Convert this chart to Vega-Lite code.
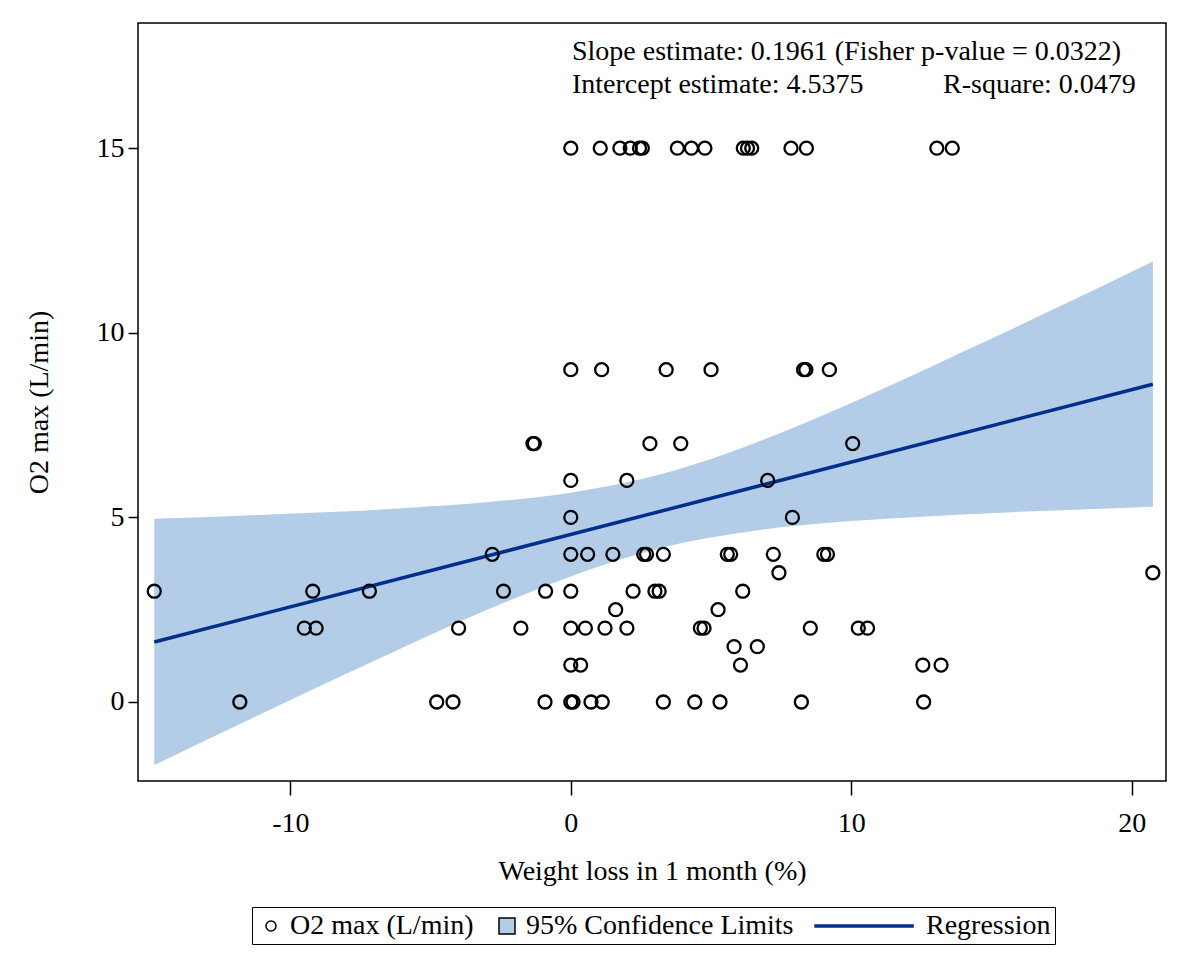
{
  "$schema": "https://vega.github.io/schema/vega-lite/v6.json",
  "width": 1028,
  "height": 758,
  "autosize": {"type": "none"},
  "padding": {"left": 138, "top": 23, "right": 23, "bottom": 184},
  "background": "white",
  "config": {
    "font": "Liberation Serif",
    "view": {"stroke": "#000000", "strokeWidth": 1.5},
    "axis": {
      "grid": false, "domain": false,
      "labelFont": "Liberation Serif", "titleFont": "Liberation Serif",
      "labelFontSize": 28, "titleFontSize": 28, "titleFontWeight": "normal",
      "labelColor": "#000000", "titleColor": "#000000", "tickColor": "#000000", "tickWidth": 1.5
    },
    "legend": {
      "labelFont": "Liberation Serif", "labelFontSize": 28, "labelColor": "#000000", "labelLimit": 0,
      "strokeColor": "#000000", "padding": 4, "columnPadding": 18, "labelOffset": 4,
      "symbolSize": 784, "symbolStrokeWidth": 1.5, "symbolOpacity": 1
    }
  },
  "datasets": {
    "band": [
      {"x": -14.85, "lo": -1.71, "hi": 4.96},
      {"x": -12, "lo": -0.67, "hi": 5.04},
      {"x": -9, "lo": 0.41, "hi": 5.13},
      {"x": -6, "lo": 1.47, "hi": 5.25},
      {"x": -3, "lo": 2.49, "hi": 5.41},
      {"x": 0, "lo": 3.40, "hi": 5.67},
      {"x": 2, "lo": 3.91, "hi": 5.95},
      {"x": 4, "lo": 4.31, "hi": 6.34},
      {"x": 6, "lo": 4.58, "hi": 6.85},
      {"x": 8, "lo": 4.77, "hi": 7.45},
      {"x": 10, "lo": 4.90, "hi": 8.10},
      {"x": 12, "lo": 5.00, "hi": 8.78},
      {"x": 14, "lo": 5.08, "hi": 9.49},
      {"x": 16, "lo": 5.15, "hi": 10.20},
      {"x": 18, "lo": 5.21, "hi": 10.92},
      {"x": 20.75, "lo": 5.29, "hi": 11.93}
    ],
    "fit": [
      {"x": -14.85, "y": 1.625},
      {"x": 20.75, "y": 8.607}
    ],
    "obs": [
      {"x": 0, "y": 15}, {"x": 1.05, "y": 15}, {"x": 1.75, "y": 15}, {"x": 2.12, "y": 15}, {"x": 2.45, "y": 15}, {"x": 2.55, "y": 15}, {"x": 3.8, "y": 15}, {"x": 4.3, "y": 15}, {"x": 4.78, "y": 15}, {"x": 6.15, "y": 15}, {"x": 6.3, "y": 15}, {"x": 6.45, "y": 15}, {"x": 7.85, "y": 15}, {"x": 8.4, "y": 15}, {"x": 13.05, "y": 15}, {"x": 13.6, "y": 15},
      {"x": 0, "y": 9}, {"x": 1.1, "y": 9}, {"x": 3.4, "y": 9}, {"x": 5.0, "y": 9}, {"x": 8.3, "y": 9}, {"x": 8.38, "y": 9}, {"x": 9.22, "y": 9},
      {"x": -1.35, "y": 7}, {"x": -1.3, "y": 7}, {"x": 2.82, "y": 7}, {"x": 3.92, "y": 7}, {"x": 10.05, "y": 7},
      {"x": 0, "y": 6}, {"x": 2.0, "y": 6}, {"x": 7.02, "y": 6},
      {"x": 0, "y": 5}, {"x": 7.9, "y": 5},
      {"x": -2.8, "y": 4}, {"x": 0, "y": 4}, {"x": 0.6, "y": 4}, {"x": 1.5, "y": 4}, {"x": 2.6, "y": 4}, {"x": 2.7, "y": 4}, {"x": 3.3, "y": 4}, {"x": 5.58, "y": 4}, {"x": 5.7, "y": 4}, {"x": 7.22, "y": 4}, {"x": 9.02, "y": 4}, {"x": 9.15, "y": 4},
      {"x": 7.42, "y": 3.5}, {"x": 20.75, "y": 3.5},
      {"x": -14.85, "y": 3}, {"x": -9.2, "y": 3}, {"x": -7.18, "y": 3}, {"x": -2.4, "y": 3}, {"x": -0.9, "y": 3}, {"x": 0, "y": 3}, {"x": 2.22, "y": 3}, {"x": 3.0, "y": 3}, {"x": 3.15, "y": 3}, {"x": 6.13, "y": 3},
      {"x": 1.6, "y": 2.5}, {"x": 5.25, "y": 2.5},
      {"x": -9.5, "y": 2}, {"x": -9.08, "y": 2}, {"x": -4.0, "y": 2}, {"x": -1.78, "y": 2}, {"x": 0, "y": 2}, {"x": 0.52, "y": 2}, {"x": 1.22, "y": 2}, {"x": 2.0, "y": 2}, {"x": 4.62, "y": 2}, {"x": 4.75, "y": 2}, {"x": 8.54, "y": 2}, {"x": 10.25, "y": 2}, {"x": 10.58, "y": 2},
      {"x": 5.82, "y": 1.5}, {"x": 6.65, "y": 1.5},
      {"x": 0, "y": 1}, {"x": 0.35, "y": 1}, {"x": 6.05, "y": 1}, {"x": 12.55, "y": 1}, {"x": 13.2, "y": 1},
      {"x": -11.8, "y": 0}, {"x": -4.78, "y": 0}, {"x": -4.2, "y": 0}, {"x": -0.92, "y": 0}, {"x": 0, "y": 0}, {"x": 0.08, "y": 0}, {"x": 0.72, "y": 0}, {"x": 1.12, "y": 0}, {"x": 3.3, "y": 0}, {"x": 4.42, "y": 0}, {"x": 5.32, "y": 0}, {"x": 8.22, "y": 0}, {"x": 12.58, "y": 0}
    ]
  },
  "layer": [
    {
      "data": {"name": "band"},
      "mark": {"type": "area", "color": "#b3cde8", "opacity": 1, "interpolate": "monotone"},
      "encoding": {
        "x": {"field": "x", "type": "quantitative", "scale": {"domain": [-15.43, 21.22], "nice": false, "zero": false},
              "axis": {"values": [-10, 0, 10, 20], "labelExpr": "'' + datum.value", "tickSize": 14, "labelPadding": 14, "titlePadding": 20, "title": "Weight loss in 1 month (%)"}},
        "y": {"field": "lo", "type": "quantitative", "scale": {"domain": [-2.14, 18.39], "nice": false, "zero": false},
              "axis": {"values": [0, 5, 10, 15], "labelExpr": "'' + datum.value", "tickSize": 10, "labelPadding": 4, "titlePadding": 43, "title": "O2 max (L/min)"}},
        "y2": {"field": "hi"}
      }
    },
    {
      "data": {"name": "fit"},
      "mark": {"type": "line", "color": "#00308a", "strokeWidth": 3.5},
      "encoding": {
        "x": {"field": "x", "type": "quantitative"},
        "y": {"field": "y", "type": "quantitative"}
      }
    },
    {
      "data": {"name": "obs"},
      "mark": {"type": "point", "size": 1325, "strokeWidth": 2.3, "opacity": 1},
      "encoding": {
        "x": {"field": "x", "type": "quantitative"},
        "y": {"field": "y", "type": "quantitative"},
        "shape": {
          "datum": "O2 max (L/min)", "type": "nominal",
          "scale": {"domain": ["O2 max (L/min)", "95% Confidence Limits", "Regression"],
                    "range": ["M -0.357 0 A 0.357 0.357 0 1 0 0.357 0 A 0.357 0.357 0 1 0 -0.357 0 Z", "M -0.571 -0.571 L 0.571 -0.571 L 0.571 0.571 L -0.571 0.571 Z", "M -6.57 -0.08 L 0.43 -0.08 L 0.43 0.08 L -6.57 0.08 Z"]},
          "legend": {"orient": "none", "legendX": 114, "legendY": 884, "direction": "horizontal", "title": null}
        },
        "fill": {
          "datum": "O2 max (L/min)", "type": "nominal",
          "scale": {"domain": ["O2 max (L/min)", "95% Confidence Limits", "Regression"], "range": ["transparent", "#b3cde8", "#00308a"]},
          "legend": {"orient": "none", "legendX": 114, "legendY": 884, "direction": "horizontal", "title": null}
        },
        "stroke": {
          "datum": "O2 max (L/min)", "type": "nominal",
          "scale": {"domain": ["O2 max (L/min)", "95% Confidence Limits", "Regression"], "range": ["#000000", "#000000", "#00308a"]},
          "legend": {"orient": "none", "legendX": 114, "legendY": 884, "direction": "horizontal", "title": null}
        }
      }
    },
    {
      "data": {"values": [{}]},
      "mark": {"type": "text", "text": "Slope estimate: 0.1961 (Fisher p-value = 0.0322)", "align": "left", "baseline": "alphabetic", "fontSize": 28, "font": "Liberation Serif", "color": "#000000"},
      "encoding": {"x": {"datum": 0.04, "type": "quantitative"}, "y": {"datum": 17.38, "type": "quantitative"}}
    },
    {
      "data": {"values": [{}]},
      "mark": {"type": "text", "text": "Intercept estimate: 4.5375", "align": "left", "baseline": "alphabetic", "fontSize": 28, "font": "Liberation Serif", "color": "#000000"},
      "encoding": {"x": {"datum": 0.04, "type": "quantitative"}, "y": {"datum": 16.49, "type": "quantitative"}}
    },
    {
      "data": {"values": [{}]},
      "mark": {"type": "text", "text": "R-square: 0.0479", "align": "left", "baseline": "alphabetic", "fontSize": 28, "font": "Liberation Serif", "color": "#000000"},
      "encoding": {"x": {"datum": 13.27, "type": "quantitative"}, "y": {"datum": 16.49, "type": "quantitative"}}
    }
  ]
}
